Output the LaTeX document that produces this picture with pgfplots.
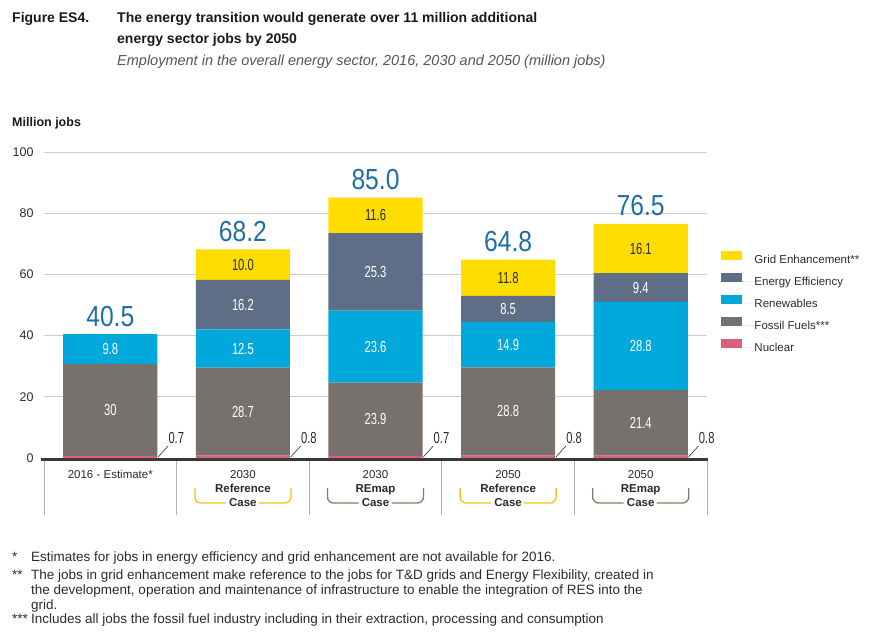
\documentclass[border=0pt]{standalone}
\usepackage{fontspec}
\setmainfont{Liberation Sans}
\newfontfamily\condfont{Liberation Sans}[FakeStretch=0.7]
\newfontfamily\totfont{Liberation Sans}[FakeStretch=0.85]
\usepackage{pgfplots}
\pgfplotsset{compat=1.18}
\definecolor{cGrid}{HTML}{FFDD00}
\definecolor{cEE}{HTML}{5F6E87}
\definecolor{cRen}{HTML}{00A8DC}
\definecolor{cFos}{HTML}{77716D}
\definecolor{cNuc}{HTML}{D8607A}
\definecolor{cTot}{HTML}{1F6FA2}
\definecolor{cTxt}{HTML}{2B2B2B}
\definecolor{cSub}{HTML}{555555}
\definecolor{cRef}{HTML}{F2C417}
\definecolor{cRem}{HTML}{6A8C5C}
\newcommand\fs[2]{\fontsize{#1}{#2}\selectfont}
\newcommand\catlab[2]{\node[anchor=north, align=center, inner sep=0pt, font=\fs{11.5}{14}, text=cTxt] at ([yshift=-12pt]axis cs:#1,0) {#2};}
\newcommand\bracket[2]{%
  \draw[#2, line width=1.3pt, rounded corners=6pt] ([xshift=-48pt,yshift=-30pt]axis cs:#1,0) -- ([xshift=-48pt,yshift=-45pt]axis cs:#1,0) -- ([xshift=-17pt,yshift=-45pt]axis cs:#1,0);
  \draw[#2, line width=1.3pt, rounded corners=6pt] ([xshift=16pt,yshift=-45pt]axis cs:#1,0) -- ([xshift=48pt,yshift=-45pt]axis cs:#1,0) -- ([xshift=48pt,yshift=-30pt]axis cs:#1,0);}
\newcommand\leader[1]{\draw[cTxt, line width=0.6pt] (axis cs:#1+0.36,0.3) -- (axis cs:#1+0.435,3.9);}
\newcommand\sep[1]{\draw[black!30, line width=0.8pt] ([yshift=-3pt]axis cs:#1,0) -- ([yshift=-57pt]axis cs:#1,0);}

\begin{document}
\begin{tikzpicture}
\path[use as bounding box] (0,0) rectangle (891pt,-644pt);
\begin{axis}[
  at={(44pt,-458pt)}, anchor=south west,
  scale only axis, width=663pt, height=306pt,
  xmin=-0.5, xmax=4.5, ymin=0, ymax=100,
  ybar stacked, bar width=0.71,
  axis line style={draw=none},
  ytick={0,20,...,100}, xtick=\empty,
  ymajorgrids, grid style={color=black!20, line width=0.8pt},
  ytick style={draw=none},
  yticklabel style={font=\fs{12.5}{14}, text=cTxt, xshift=-7pt},
  /pgf/number format/assume math mode=true,
  clip=false,
  reverse legend,
  legend style={at={(1.017,0.683)}, anchor=north west, draw=none, fill=none,
     font=\fs{11.5}{13}, text=cTxt, row sep=8pt,
     nodes={inner sep=0pt, text height=9pt, text depth=2pt, anchor=west}},
  sw/.style={legend image code/.code={\fill[##1] (0pt,-0.5pt) rectangle (21pt,8.5pt); \path (0pt,0pt) -- (33pt,0pt);}},
]
\addplot[fill=cNuc, draw=none, sw] coordinates {(0,0.7) (1,0.8) (2,0.7) (3,0.8) (4,0.8)};
\addlegendentry{Nuclear}
\addplot[fill=cFos, draw=none, sw] coordinates {(0,30) (1,28.7) (2,23.9) (3,28.8) (4,21.4)};
\addlegendentry{Fossil Fuels***}
\addplot[fill=cRen, draw=none, sw] coordinates {(0,9.8) (1,12.5) (2,23.6) (3,14.9) (4,28.8)};
\addlegendentry{Renewables}
\addplot[fill=cEE, draw=none, sw] coordinates {(0,0) (1,16.2) (2,25.3) (3,8.5) (4,9.4)};
\addlegendentry{Energy Efficiency}
\addplot[fill=cGrid, draw=none, sw] coordinates {(0,0) (1,10.0) (2,11.6) (3,11.8) (4,16.1)};
\addlegendentry{Grid Enhancement**}
\draw[black!78, line width=3.5pt] ([xshift=-3pt,yshift=-1.5pt]axis cs:-0.5,0) -- ([xshift=1pt,yshift=-1.5pt]axis cs:4.5,0);
\end{axis}

\begin{axis}[
  at={(44pt,-458pt)}, anchor=south west,
  scale only axis, width=663pt, height=306pt,
  xmin=-0.5, xmax=4.5, ymin=0, ymax=100,
  hide axis, clip=false,
  nodes near coords, point meta=explicit symbolic,
  lab/.style={only marks, mark=*, mark size=0pt, mark options={draw=none, fill=none}},
]
% totals
\addplot[lab, every node near coord/.append style={anchor=base, inner sep=0pt, yshift=8pt, font=\totfont\fs{29}{30}, text=cTot}]
  coordinates {(0,40.5)[40.5] (1,68.2)[68.2] (2,85.1)[85.0] (3,64.8)[64.8] (4,76.5)[76.5]};
% segment labels (white), placed at segment midpoints
\addplot[lab, every node near coord/.append style={anchor=center, inner sep=0pt, font=\condfont\fs{16}{18}, text=white}]
  coordinates {(0,15.7)[30] (0,35.6)[9.8]
               (1,15.15)[28.7] (1,35.75)[12.5] (1,50.1)[16.2]
               (2,12.65)[23.9] (2,36.4)[23.6] (2,60.85)[25.3]
               (3,15.2)[28.8] (3,37.05)[14.9] (3,48.75)[8.5]
               (4,11.5)[21.4] (4,36.6)[28.8] (4,55.7)[9.4]};
% grid enhancement labels (dark)
\addplot[lab, every node near coord/.append style={anchor=center, inner sep=0pt, font=\condfont\fs{16}{18}, text=cTxt}]
  coordinates {(1,63.2)[10.0] (2,79.3)[11.6] (3,58.9)[11.8] (4,68.45)[16.1]};
% nuclear labels
\addplot[lab, every node near coord/.append style={anchor=west, inner sep=1pt, font=\condfont\fs{16}{18}, text=cTxt}]
  coordinates {(0.43,6.7)[0.7] (1.43,6.7)[0.8] (2.43,6.7)[0.7] (3.43,6.7)[0.8] (4.43,6.7)[0.8]};
\leader{0}\leader{1}\leader{2}\leader{3}\leader{4}
\sep{-0.5}\sep{0.5}\sep{1.5}\sep{2.5}\sep{3.5}\sep{4.5}
\catlab{0}{2016 - Estimate*}
\catlab{1}{2030\\\textbf{Reference}\\\textbf{Case}}
\catlab{2}{2030\\\textbf{REmap}\\\textbf{Case}}
\catlab{3}{2050\\\textbf{Reference}\\\textbf{Case}}
\catlab{4}{2050\\\textbf{REmap}\\\textbf{Case}}
\bracket{1}{cRef}\bracket{2}{cRem}\bracket{3}{cRef}\bracket{4}{cRem}
\end{axis}

\begin{scope}[x=1pt, y=-1pt]
\node[anchor=base west, inner sep=0pt, font=\bfseries\fs{14}{16}, text=black!90] at (12,23) {Figure ES4.};
\node[anchor=base west, inner sep=0pt, font=\bfseries\fs{14}{16}, text=black!90] at (117,23) {The energy transition would generate over 11 million additional};
\node[anchor=base west, inner sep=0pt, font=\bfseries\fs{14}{16}, text=black!90] at (117,44) {energy sector jobs by 2050};
\node[anchor=base west, inner sep=0pt, font=\itshape\fs{14.5}{16}, text=cSub] at (117,66) {Employment in the overall energy sector, 2016, 2030 and 2050 (million jobs)};
\node[anchor=base west, inner sep=0pt, font=\bfseries\fs{12.5}{15}, text=black!90] at (12,127) {Million jobs};
\begin{scope}[every node/.style={anchor=base west, inner sep=0pt, font=\fs{13.5}{15}, text=cTxt}]
\node at (12,561) {*};
\node at (31,561) {Estimates for jobs in energy efficiency and grid enhancement are not available for 2016.};
\node at (12,579) {**};
\node at (31,579) {The jobs in grid enhancement make reference to the jobs for T\&D grids and Energy Flexibility, created in};
\node at (31,594) {the development, operation and maintenance of infrastructure to enable the integration of RES into the};
\node at (31,609) {grid.};
\node at (12,623) {***};
\node at (31,623) {Includes all jobs the fossil fuel industry including in their extraction, processing and consumption};
\end{scope}
\end{scope}
\end{tikzpicture}
\end{document}
